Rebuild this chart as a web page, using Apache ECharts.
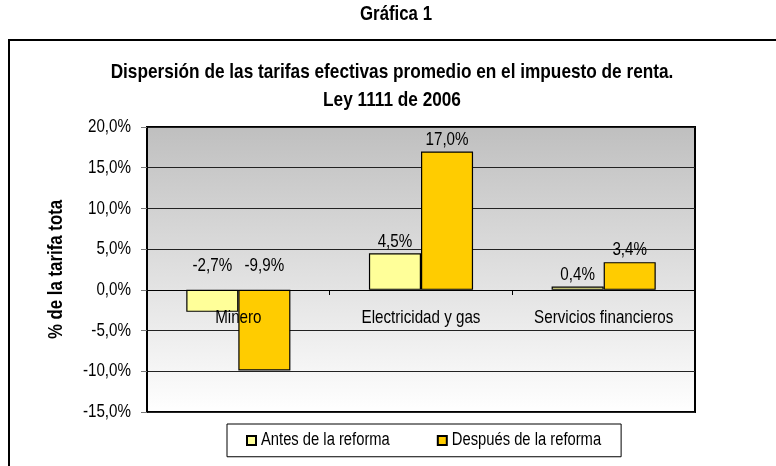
<!DOCTYPE html>
<html>
<head>
<meta charset="utf-8">
<script src="https://cdn.jsdelivr.net/npm/echarts@6/dist/echarts.min.js"></script>
<style>
html,body{margin:0;padding:0;background:#fff;}
#c{width:776px;height:466px;}
</style>
</head>
<body>
<div id="c"></div>
<script>
const categories = ['Minero', 'Electricidad y gas', 'Servicios financieros'];
const antes = [-2.7, 4.5, 0.4];
const despues = [-9.9, 17.0, 3.4];
const seriesNames = ['Antes de la reforma', 'Después de la reforma'];
const yTicks = [-15, -10, -5, 0, 5, 10, 15, 20];

// Emulate a narrow (condensed) sans face by horizontally compressing Liberation Sans text.
(function () {
  const K = 0.82;
  const P = CanvasRenderingContext2D.prototype;
  const oFill = P.fillText, oStroke = P.strokeText, oMeasure = P.measureText;
  P.fillText = function (t, x, y, mw) {
    this.save(); this.translate(x, y); this.scale(K, 1);
    if (mw !== undefined) oFill.call(this, t, 0, 0, mw / K); else oFill.call(this, t, 0, 0);
    this.restore();
  };
  P.strokeText = function (t, x, y, mw) {
    this.save(); this.translate(x, y); this.scale(K, 1);
    if (mw !== undefined) oStroke.call(this, t, 0, 0, mw / K); else oStroke.call(this, t, 0, 0);
    this.restore();
  };
  P.measureText = function (t) {
    const m = oMeasure.call(this, t);
    return {
      width: m.width * K,
      actualBoundingBoxLeft: m.actualBoundingBoxLeft * K,
      actualBoundingBoxRight: m.actualBoundingBoxRight * K,
      actualBoundingBoxAscent: m.actualBoundingBoxAscent,
      actualBoundingBoxDescent: m.actualBoundingBoxDescent,
      fontBoundingBoxAscent: m.fontBoundingBoxAscent,
      fontBoundingBoxDescent: m.fontBoundingBoxDescent
    };
  };
})();

const FONT = '"Liberation Sans", Arial, sans-serif';
const FS = 18.5;
const fmt = v => v.toFixed(1).replace('.', ',') + '%';

function mkData(arr) {
  return arr.map(v => ({
    value: v,
    label: v < 0
      ? { position: ['50%', -24], align: 'center', verticalAlign: 'middle' }
      : { position: 'top', distance: 4 }
  }));
}

const chart = echarts.init(document.getElementById('c'), null, { renderer: 'canvas' });
chart.setOption({
  backgroundColor: '#ffffff',
  animation: false,
  textStyle: { fontFamily: FONT },
  title: [
    { text: 'Gráfica 1', left: 391, top: 1, textAlign: 'center',
      textStyle: { fontFamily: FONT, fontSize: 20.5, fontWeight: 'bold', color: '#000' } },
    { text: 'Dispersión de las tarifas efectivas promedio en el impuesto de renta.\nLey 1111 de 2006',
      left: 387, top: 53, textAlign: 'center',
      textStyle: { fontFamily: FONT, fontSize: 21, fontWeight: 'bold', color: '#000', lineHeight: 28 } }
  ],
  graphic: [
    { type: 'rect', shape: { x: 9, y: 40, width: 800, height: 460 },
      style: { fill: 'none', stroke: '#000', lineWidth: 2 }, silent: true, z: -1 }
  ],
  grid: { left: 147, right: 81, top: 127, bottom: 54, containLabel: false,
    show: true, borderColor: '#000', borderWidth: 2,
    backgroundColor: new echarts.graphic.LinearGradient(0, 0, 0, 1, [
      { offset: 0, color: '#bfbfbf' }, { offset: 1, color: '#ffffff' }
    ]) },
  legend: {
    data: seriesNames,
    left: 227, top: 424,
    padding: [9, 20, 9, 19],
    itemGap: 47, itemWidth: 9, itemHeight: 9, icon: 'rect',
    backgroundColor: '#fff', borderColor: '#000', borderWidth: 1,
    textStyle: { fontFamily: FONT, fontSize: 18, color: '#000' }
  },
  xAxis: {
    type: 'category', data: categories, position: 'bottom', offset: -122, z: 10,
    axisLine: { onZero: false, lineStyle: { color: '#000', width: 1 } },
    axisTick: { show: true, length: 5, lineStyle: { color: '#000' } },
    axisLabel: { margin: 20, fontFamily: FONT, fontSize: FS, color: '#000' },
    splitLine: { show: false }
  },
  yAxis: {
    type: 'value', min: -15, max: 20, interval: 5,
    name: '% de la tarifa tota', nameLocation: 'middle', nameGap: 82, nameRotate: 90,
    nameTextStyle: { fontFamily: FONT, fontSize: 20.5, fontWeight: 'bold', color: '#000' },
    axisLine: { show: true, lineStyle: { color: '#000', width: 2 } },
    axisTick: { show: true, length: 6, lineStyle: { color: '#777' } },
    axisLabel: { margin: 16, fontFamily: FONT, fontSize: FS, color: '#000',
      formatter: v => yTicks.includes(v) ? fmt(v) : '' },
    splitLine: { show: true, lineStyle: { color: '#222', width: 1 } }
  },
  series: [
    { name: seriesNames[0], type: 'bar', data: mkData(antes), barGap: '0%', barCategoryGap: '43%',
      itemStyle: { color: '#ffff99', borderColor: '#000', borderWidth: 1.2 },
      label: { show: true, formatter: p => fmt(p.value), fontFamily: FONT, fontSize: FS, color: '#000' } },
    { name: seriesNames[1], type: 'bar', data: mkData(despues), barGap: '0%', barCategoryGap: '43%',
      itemStyle: { color: '#ffcc00', borderColor: '#000', borderWidth: 1.2 },
      label: { show: true, formatter: p => fmt(p.value), fontFamily: FONT, fontSize: FS, color: '#000' } }
  ]
});
</script>
</body>
</html>
